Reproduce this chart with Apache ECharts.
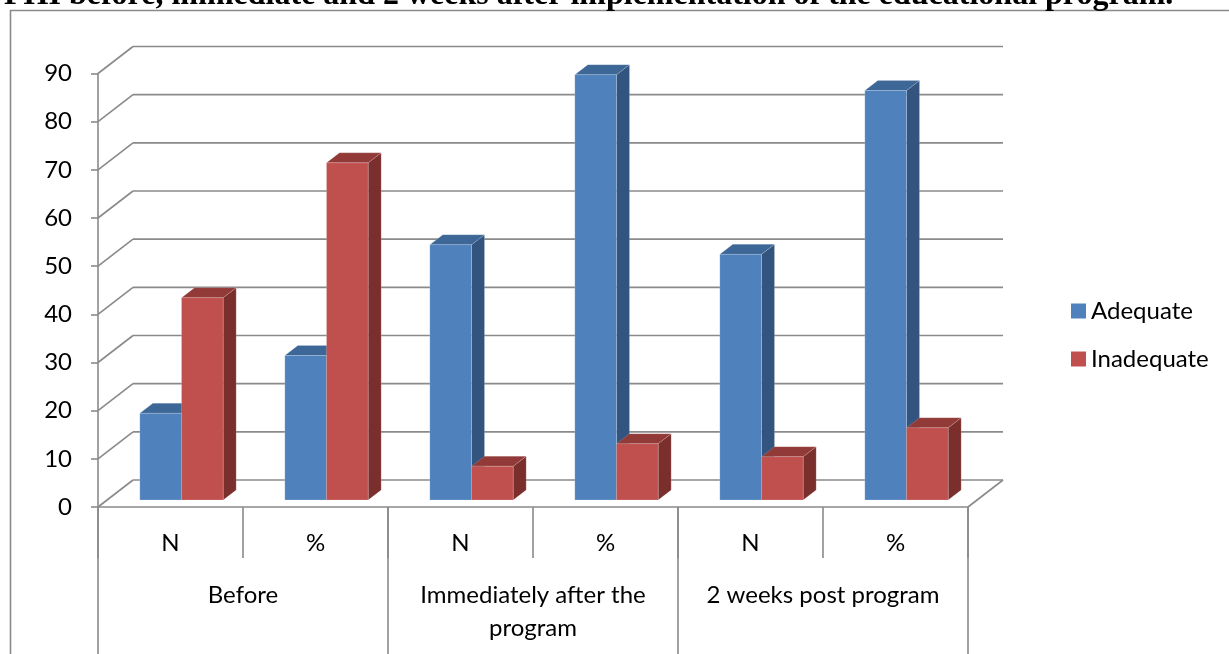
<!DOCTYPE html>
<html>
<head>
<meta charset="utf-8">
<script src="https://cdn.jsdelivr.net/npm/echarts@6/dist/echarts.min.js"></script>
<style>
  html, body { margin: 0; padding: 0; background: #fff; }
  #chart { width: 1229px; height: 654px; }
</style>
</head>
<body>
<div id="chart"></div>
<script>
// ---- data ----
const titleText = 'PHI before, immediate and 2 weeks after implementation of the educational program.';
const categories = ['N', '%', 'N', '%', 'N', '%'];
const groups = ['Before', 'Immediately after the\nprogram', '2 weeks post program'];
const seriesNames = ['Adequate', 'Inadequate'];
const adequate = [18, 30, 53, 88.3, 51, 85];
const inadequate = [42, 70, 7, 11.7, 9, 15];
const yTicks = [0, 10, 20, 30, 40, 50, 60, 70, 80, 90];

// ---- styling constants ----
const FONT = 'Lato';
const GRID_COLOR = '#8a8a8a';
const WALL_DX = 35, WALL_DY = -27;      // depth of the floor/back wall
const BAR_BX = 11, BAR_BY = -7;         // bar front plane shift into depth
const BOX_DX = 13, BOX_DY = -10;        // bar box depth
const BAR_RATIO = 0.2874;               // bar width / category band
const colorsA = { front: '#4F81BD', top: '#3D6796', side: '#32547F' };
const colorsI = { front: '#C0504D', top: '#923A38', side: '#7B2F2D' };

function boxRenderer(sideIdx, c) {
  return function (params, api) {
    const idx = api.value(0), v = api.value(1);
    const topPt = api.coord([idx, v]);
    const basePt = api.coord([idx, 0]);
    const band = api.size([1, 0])[0];
    const w = band * BAR_RATIO;
    const x0 = topPt[0] + (sideIdx === 0 ? -w : 0) + BAR_BX;
    const x1 = x0 + w;
    const yT = topPt[1] + BAR_BY;
    const yB = basePt[1] + BAR_BY;
    return {
      type: 'group',
      children: [
        { type: 'polygon', shape: { points: [[x1, yT], [x1 + BOX_DX, yT + BOX_DY], [x1 + BOX_DX, yB + BOX_DY], [x1, yB]] },
          style: { fill: c.side, stroke: 'rgba(255,255,255,0.25)', lineWidth: 0.6 } },
        { type: 'polygon', shape: { points: [[x0, yT], [x1, yT], [x1 + BOX_DX, yT + BOX_DY], [x0 + BOX_DX, yT + BOX_DY]] },
          style: { fill: c.top, stroke: 'rgba(255,255,255,0.25)', lineWidth: 0.6 } },
        { type: 'rect', shape: { x: x0, y: yT, width: w, height: yB - yT },
          style: { fill: c.front, stroke: 'rgba(255,255,255,0.3)', lineWidth: 0.6 } }
      ]
    };
  };
}

function frameRenderer(params, api) {
  const cs = params.coordSys;
  const v = api.value(1);
  const y = api.coord([0, v])[1];
  const xl = cs.x, xr = cs.x + cs.width;
  const st = { stroke: GRID_COLOR, lineWidth: 1.6, fill: null };
  const children = [
    { type: 'line', shape: { x1: xl, y1: y, x2: xl + WALL_DX, y2: y + WALL_DY }, style: st },
    { type: 'line', shape: { x1: xl + WALL_DX, y1: y + WALL_DY, x2: xr + WALL_DX, y2: y + WALL_DY }, style: st }
  ];
  if (v === 0) {
    children.push({ type: 'line', shape: { x1: xr, y1: y, x2: xr + WALL_DX, y2: y + WALL_DY }, style: st });
  }
  return { type: 'group', children: children };
}

const chart = echarts.init(document.getElementById('chart'), null, { renderer: 'canvas' });
chart.setOption({
  backgroundColor: '#ffffff',
  animation: false,
  graphic: [
    { type: 'rect', z: 0, silent: true,
      shape: { x: 10.5, y: 10.5, width: 1300, height: 800 },
      style: { fill: null, stroke: '#8a8a8a', lineWidth: 1.6 } },
    { type: 'text', z: 10, silent: true, x: 4, y: -4,
      style: { text: titleText, font: 'bold 32px "Liberation Serif"', fill: '#000', verticalAlign: 'middle' } }
  ],
  legend: {
    data: seriesNames,
    orient: 'vertical',
    left: 1066,
    top: 294,
    itemWidth: 15,
    itemHeight: 15,
    itemGap: 24,
    icon: 'rect',
    textStyle: { fontFamily: FONT, fontSize: 24, color: '#000', lineHeight: 24 }
  },
  grid: { left: 98, top: 73.5, width: 870, height: 433.5 },
  xAxis: [
    {
      type: 'category', data: categories, position: 'bottom', offset: 0,
      axisLine: { show: true, lineStyle: { color: GRID_COLOR, width: 1.6 } },
      axisTick: { show: true, interval: 0, length: 51, lineStyle: { color: GRID_COLOR, width: 1.6 } },
      axisLabel: { interval: 0, fontFamily: FONT, fontSize: 24, color: '#000', margin: 24, lineHeight: 24 },
      splitLine: { show: false }
    },
    {
      type: 'category', data: groups, position: 'bottom', offset: 0,
      axisLine: { show: false },
      axisTick: { show: true, interval: 0, length: 150, lineStyle: { color: GRID_COLOR, width: 1.6 } },
      axisLabel: { interval: 0, fontFamily: FONT, fontSize: 24, color: '#000', margin: 72, lineHeight: 33 },
      splitLine: { show: false }
    }
  ],
  yAxis: {
    type: 'value', min: 0, max: 90, interval: 10,
    axisLine: { show: true, lineStyle: { color: GRID_COLOR, width: 1.6 } },
    axisTick: { show: true, length: 7, lineStyle: { color: GRID_COLOR, width: 1.6 } },
    axisLabel: { fontFamily: FONT, fontSize: 24, color: '#000', margin: 26 },
    splitLine: { show: false }
  },
  series: [
    {
      name: 'frame', type: 'custom', silent: true, z: 1,
      xAxisIndex: 0, yAxisIndex: 0,
      encode: { x: 0, y: 1 },
      data: yTicks.map(v => [0, v]),
      renderItem: frameRenderer
    },
    {
      name: seriesNames[0], type: 'custom', z: 2,
      xAxisIndex: 0, yAxisIndex: 0,
      itemStyle: { color: colorsA.front },
      encode: { x: 0, y: 1 },
      data: adequate.map((v, i) => [i, v]),
      renderItem: boxRenderer(0, colorsA)
    },
    {
      name: seriesNames[1], type: 'custom', z: 3,
      xAxisIndex: 0, yAxisIndex: 0,
      itemStyle: { color: colorsI.front },
      encode: { x: 0, y: 1 },
      data: inadequate.map((v, i) => [i, v]),
      renderItem: boxRenderer(1, colorsI)
    }
  ]
});
</script>
</body>
</html>
